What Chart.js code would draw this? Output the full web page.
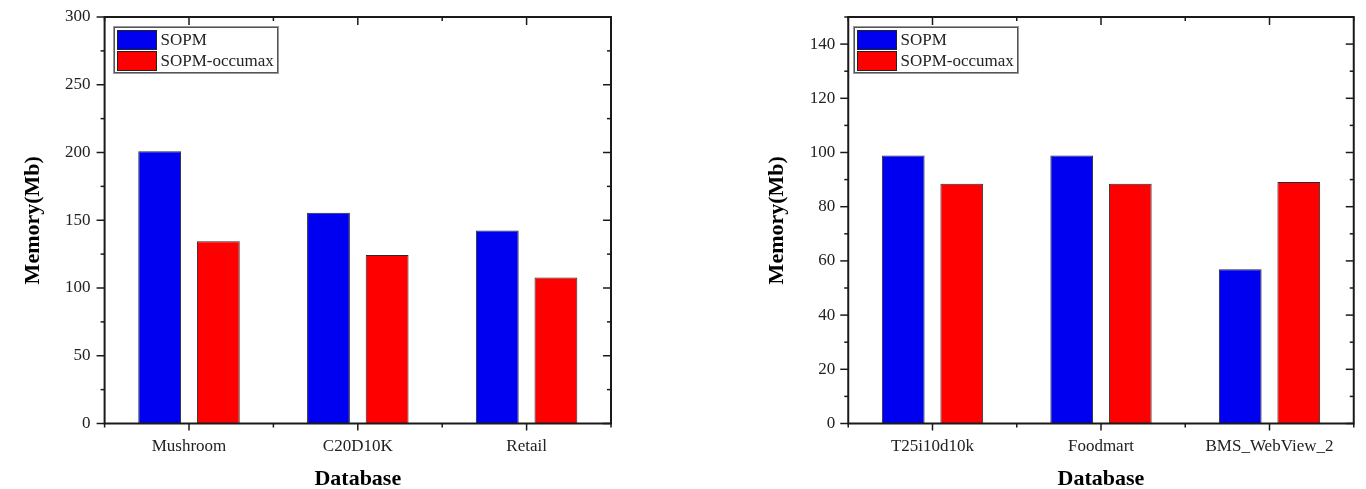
<!DOCTYPE html>
<html><head><meta charset="utf-8">
<script src="https://cdn.jsdelivr.net/npm/chart.js@4/dist/chart.umd.min.js"></script>
<style>
html,body{margin:0;padding:0;background:#fff;overflow:hidden;}
#w{position:relative;width:1366px;height:489px;}
.c{position:absolute;top:0;width:683px;height:489px;}
canvas{display:block;}
</style></head><body>
<div id="w">
<div class="c" style="left:0"><canvas id="c1" width="683" height="489"></canvas></div>
<div class="c" style="left:683px"><canvas id="c2" width="683" height="489"></canvas></div>
</div>
<script>
// ---- data ----
const seriesNames = ['SOPM', 'SOPM-occumax'];
const categoriesA = ['Mushroom', 'C20D10K', 'Retail'];
const sopmA = [201, 155.5, 142.5];
const occumaxA = [134.5, 124.3, 107.8];
const categoriesB = ['T25i10d10k', 'Foodmart', 'BMS_WebView_2'];
const sopmB = [98.9, 98.9, 56.9];
const occumaxB = [88.5, 88.5, 89.1];
const yAxisA = { min: 0, max: 300, major: 50, minor: 25 };
const yAxisB = { min: 0, max: 150, major: 20, minor: 10 };
const xTitle = 'Database';
const yTitle = 'Memory(Mb)';

Chart.defaults.font.family = "'Liberation Serif', 'Times New Roman', serif";
Chart.defaults.color = '#222';

const framePlugin = {
  id: 'frame',
  afterDatasetsDraw(chart, args, opts) {
    const { ctx, chartArea: { left, right, top, bottom }, scales: { x, y } } = chart;
    const ln = (x1, y1, x2, y2) => { ctx.beginPath(); ctx.moveTo(x1, y1); ctx.lineTo(x2, y2); ctx.stroke(); };
    ctx.save();
    ctx.strokeStyle = '#1a1a1a';
    ctx.lineWidth = 1.5;
    const yt = opts.yt;
    for (let v = yt.min; v <= yt.max + 1e-9; v += yt.minor) {
      const p = y.getPixelForValue(v);
      const L = (Math.abs(v % yt.major) < 1e-9) ? 8 : 4;
      ln(left - L, p, left, p);
      ln(right - L, p, right, p);
    }
    const n = x.ticks.length;
    for (let i = 0; i < n; i++) {
      const p = x.getPixelForTick(i);
      ln(p, bottom, p, bottom + 7);
      ln(p, top, p, top + 8);
    }
    for (let i = 0; i <= n; i++) {
      const p = i === 0 ? left : (i === n ? right : (x.getPixelForTick(i - 1) + x.getPixelForTick(i)) / 2);
      ln(p, bottom, p, bottom + 4);
      ln(p, top, p, top + 4);
    }
    ctx.lineWidth = 2;
    ctx.strokeRect(left, top, right - left, bottom - top);
    // legend
    const bx = Math.round(left + opts.legendDx) + 0.5, by = Math.round(top + 9.5) + 0.5;
    const bw = 163, bh = 45;
    ctx.lineWidth = 1;
    ctx.strokeStyle = '#555';
    ctx.strokeRect(bx, by, bw, bh);
    ctx.strokeStyle = '#999';
    ctx.strokeRect(bx - 1, by - 1, bw + 2, bh + 2);
    ctx.font = "17px 'Liberation Serif'";
    ctx.textBaseline = 'middle';
    ctx.textAlign = 'left';
    chart.data.datasets.forEach((ds, i) => {
      const sy = by + 3 + i * 21;
      ctx.fillStyle = ds.backgroundColor;
      ctx.fillRect(bx + 3, sy, 39, 19);
      ctx.strokeStyle = '#222';
      ctx.strokeRect(bx + 3, sy, 39, 19);
      ctx.fillStyle = '#222';
      ctx.fillText(ds.label, bx + 46, sy + 10.5);
    });
    ctx.restore();
  }
};

function makeChart(id, cats, s1, s2, yt, g) {
  return new Chart(document.getElementById(id), {
    type: 'bar',
    data: {
      labels: cats,
      datasets: [
        { label: seriesNames[0], data: s1, backgroundColor: '#0000f0', borderColor: '#2a2a2a', borderWidth: 1,
          categoryPercentage: 0.695, barPercentage: 0.73 },
        { label: seriesNames[1], data: s2, backgroundColor: '#ff0000', borderColor: '#2a2a2a', borderWidth: 1,
          categoryPercentage: 0.695, barPercentage: 0.73 }
      ]
    },
    options: {
      responsive: false,
      animation: false,
      devicePixelRatio: 1,
      layout: { padding: { top: g.top, right: 683 - g.right, left: 0, bottom: 0 } },
      plugins: {
        legend: { display: false },
        tooltip: { enabled: false },
        frame: { yt: yt, legendDx: g.legendDx }
      },
      scales: {
        x: {
          type: 'category',
          offset: true,
          grid: { display: false },
          border: { display: false },
          ticks: { font: { size: 17 }, color: '#222', padding: 5, maxRotation: 0, autoSkip: false },
          title: { display: true, text: xTitle, color: '#000',
                   font: { size: 22, weight: 'bold', lineHeight: 1 }, padding: { top: 0, bottom: -1 } },
          afterFit: s => { s.height = 489 - g.bottom; s.paddingLeft = 0; s.paddingRight = 0; }
        },
        y: {
          min: yt.min, max: yt.max,
          afterBuildTicks: s => { s.ticks = s.ticks.filter(t => Math.abs(t.value % yt.major) < 1e-9); },
          grid: { display: false },
          border: { display: false },
          ticks: { stepSize: yt.major, font: { size: 17 }, color: '#222', padding: g.labelPad },
          title: { display: true, text: yTitle, color: '#000',
                   font: { size: 22, weight: 'bold', lineHeight: 1 }, padding: { top: g.titleX - 11, bottom: 0 } },
          afterFit: s => { s.width = g.left; s.paddingTop = 0; s.paddingBottom = 0; }
        }
      }
    },
    plugins: [framePlugin]
  });
}

makeChart('c1', categoriesA, sopmA, occumaxA, yAxisA,
  { left: 104.6, right: 611, top: 17, bottom: 423.5, titleX: 33, legendDx: 9.4, labelPad: 6 });
makeChart('c2', categoriesB, sopmB, occumaxB, yAxisB,
  { left: 165.25, right: 670.75, top: 17, bottom: 423.5, titleX: 94, legendDx: 5.75, labelPad: 5 });
</script>
</body></html>
